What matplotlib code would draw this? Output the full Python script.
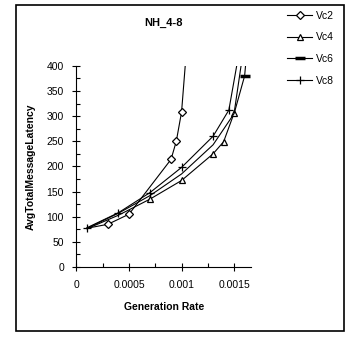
import matplotlib
matplotlib.use("Agg")
import matplotlib.pyplot as plt
from matplotlib.patches import Rectangle
from matplotlib.ticker import MultipleLocator

plt.rcParams['font.family'] = ['Liberation Sans', 'DejaVu Sans']

# Data
vc2_x = [0.0001, 0.0003, 0.0005, 0.0009, 0.00095, 0.001, 0.00105]
vc2_y = [77, 85, 105, 214, 250, 308, 440]
vc4_x = [0.0001, 0.0004, 0.0007, 0.001, 0.0013, 0.0014, 0.0015, 0.00158]
vc4_y = [76, 103, 135, 172, 225, 249, 306, 420]
vc6_x = [0.0001, 0.0004, 0.0007, 0.001, 0.0013, 0.0015, 0.0016, 0.00163]
vc6_y = [77, 107, 142, 185, 243, 305, 380, 450]
vc8_x = [0.0001, 0.0004, 0.0007, 0.001, 0.0013, 0.00145, 0.00155]
vc8_y = [78, 108, 148, 198, 260, 312, 430]

fig = plt.figure(figsize=(3.49, 3.37), dpi=100)
ax = fig.add_axes([0.219, 0.2077, 0.5, 0.597])

# markers that are hidden under other marks in the original are left out
ax.plot(vc2_x, vc2_y, color='black', lw=0.8, marker='D', ms=4,
        mfc='white', mec='black', mew=0.9, markevery=[1, 2, 3, 4, 5],
        label='Vc2')
ax.plot(vc4_x, vc4_y, color='black', lw=0.8, marker='^', ms=5,
        mfc='white', mec='black', mew=0.9, markevery=[2, 3, 4, 5, 6],
        label='Vc4')
ax.plot(vc6_x, vc6_y, color='black', lw=0.8, marker='_', ms=7,
        mew=2.5, markevery=[6], label='Vc6')
ax.plot(vc8_x, vc8_y, color='black', lw=0.8, marker='+', ms=6,
        mew=0.9, markevery=[0, 1, 2, 3, 4, 5], label='Vc8')

ax.set_xlim(0, 0.00166)
ax.set_ylim(0, 400)
ax.xaxis.set_major_locator(MultipleLocator(0.0005))
ax.xaxis.set_minor_locator(MultipleLocator(0.00025))
ax.yaxis.set_major_locator(MultipleLocator(50))
ax.yaxis.set_minor_locator(MultipleLocator(25))
ax.set_xticks([0, 0.0005, 0.001, 0.0015])
ax.set_xticklabels(['0', '0.0005', '0.001', '0.0015'])

ax.spines['top'].set_visible(False)
ax.spines['right'].set_visible(False)
ax.spines['left'].set_linewidth(0.8)
ax.spines['bottom'].set_linewidth(0.8)
ax.tick_params(which='major', direction='inout', length=6, width=0.8,
               labelsize=7.5, pad=6)
ax.tick_params(which='minor', direction='in', length=3, width=0.8)

ax.set_title('NH_4-8', fontsize=8, fontweight='bold', pad=29, x=0.5)
ax.set_xlabel('Generation Rate', fontsize=7.5, fontweight='bold', labelpad=9)
ax.set_ylabel('AvgTotalMessageLatency', fontsize=7.5, fontweight='bold',
              labelpad=8)

leg = ax.legend(loc='upper left', bbox_to_anchor=(1.155, 1.32), frameon=False,
                fontsize=7.5, handlelength=2.4, handletextpad=0.3,
                labelspacing=1.12)

fig.patches.append(Rectangle((16 / 349, 1 - 331 / 337), (344 - 16) / 349,
                             (331 - 5) / 337, transform=fig.transFigure,
                             fill=False, edgecolor='black', lw=1.2))

fig.savefig('out.png', dpi=100)
